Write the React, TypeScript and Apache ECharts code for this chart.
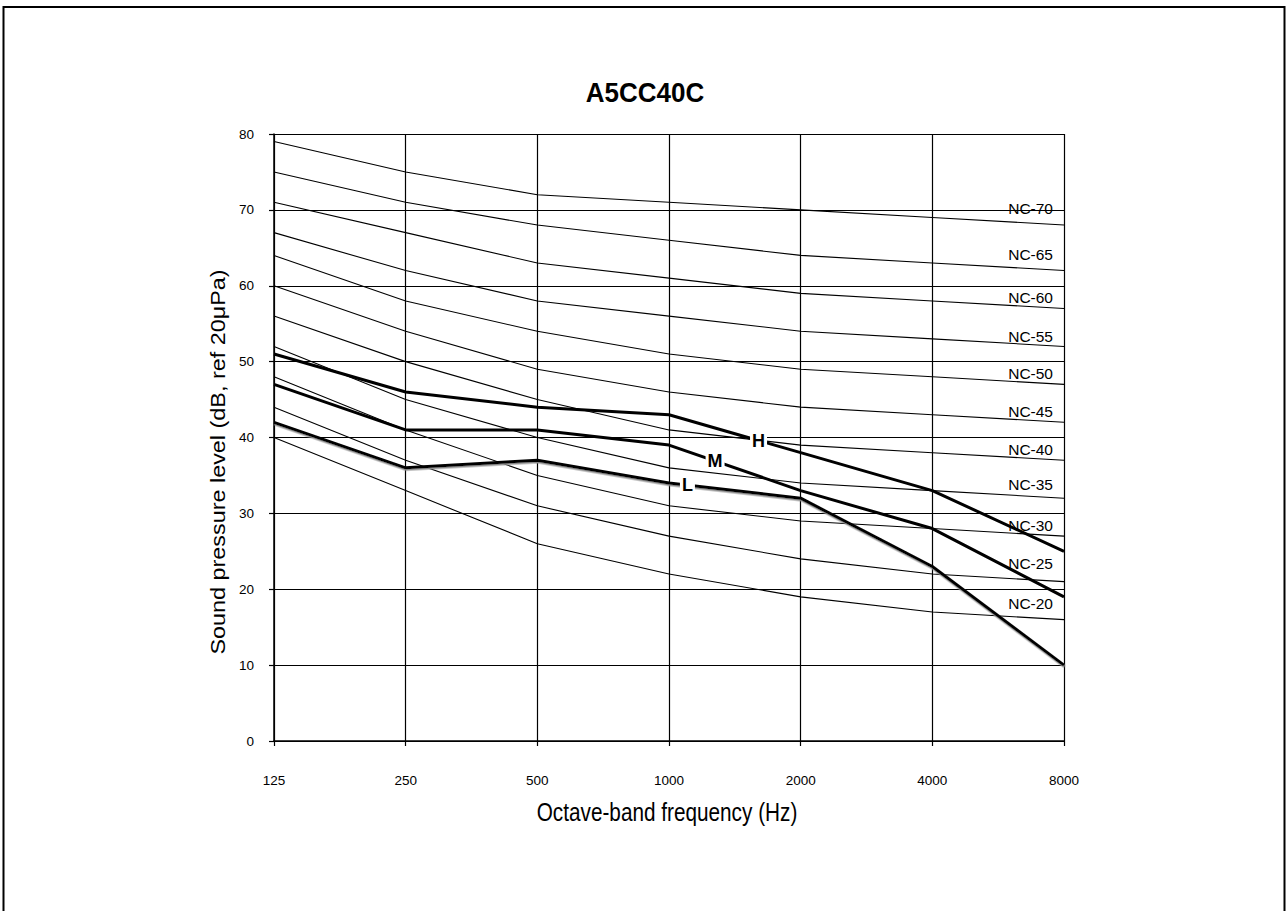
import React, { useEffect, useRef } from "react";
import * as echarts from "echarts";

// ---- data ----
const freqLabels = ["125", "250", "500", "1000", "2000", "4000", "8000"];
const yTickMin = 0;
const yTickMax = 80;
const yTickStep = 10;

const ncNames = ["NC-70", "NC-65", "NC-60", "NC-55", "NC-50", "NC-45", "NC-40", "NC-35", "NC-30", "NC-25", "NC-20"];
const nc70 = [79, 75, 72, 71, 70, 69, 68];
const nc65 = [75, 71, 68, 66, 64, 63, 62];
const nc60 = [71, 67, 63, 61, 59, 58, 57];
const nc55 = [67, 62, 58, 56, 54, 53, 52];
const nc50 = [64, 58, 54, 51, 49, 48, 47];
const nc45 = [60, 54, 49, 46, 44, 43, 42];
const nc40 = [56, 50, 45, 41, 39, 38, 37];
const nc35 = [52, 45, 40, 36, 34, 33, 32];
const nc30 = [48, 41, 35, 31, 29, 28, 27];
const nc25 = [44, 37, 31, 27, 24, 22, 21];
const nc20 = [40, 33, 26, 22, 19, 17, 16];
const ncCurves = [nc70, nc65, nc60, nc55, nc50, nc45, nc40, nc35, nc30, nc25, nc20];

const speedNames = ["H", "M", "L"];
const hValues = [51, 46, 44, 43, 38, 33, 25];
const mValues = [47, 41, 41, 39, 33, 28, 19];
const lValues = [42, 36, 37, 34, 32, 23, 10];
const speedCurves = [hValues, mValues, lValues];

// ---- layout / style config ----
const speedLabelAt = [3.68, 3.35, 3.14]; // position along the x index where each curve label sits
const ncLabelDy = [-17, -16, -11, -10, -11, -11, -11, -14, -11, -18, -16];
const SANS = "'Liberation Sans', Arial, sans-serif";

const toPairs = (vals: number[]) => vals.map((v, i) => [i, v]);
const interp = (vals: number[], x: number) => {
  const i = Math.min(Math.floor(x), vals.length - 2);
  const t = x - i;
  return vals[i] + (vals[i + 1] - vals[i]) * t;
};

export default function App() {
  const ref = useRef<HTMLDivElement>(null);
  useEffect(() => {
    if (!ref.current) return;
    const chart = echarts.init(ref.current, undefined, { renderer: "svg" });

    const ncSeries = ncCurves.map((vals, k) => ({
      name: ncNames[k],
      type: "line",
      data: toPairs(vals),
      symbol: "none",
      silent: true,
      z: 2,
      lineStyle: { color: "#000", width: 1.1 },
      markPoint: {
        symbol: "circle",
        symbolSize: 0,
        silent: true,
        label: {
          show: true,
          position: "left",
          distance: 0,
          offset: [-11, ncLabelDy[k]],
          formatter: ncNames[k],
          color: "#000",
          fontSize: 15.5,
          fontFamily: SANS,
        },
        data: [{ coord: [vals.length - 1, vals[vals.length - 1]] }],
      },
    }));

    const speedSeries = speedCurves.map((vals, k) => ({
      name: speedNames[k],
      type: "line",
      data: toPairs(vals),
      symbol: "none",
      silent: true,
      z: 5,
      lineStyle:
        speedNames[k] === "L"
          ? { color: "#000", width: 3, shadowColor: "#8a8a8a", shadowBlur: 0, shadowOffsetX: 0.5, shadowOffsetY: 1.5 }
          : { color: "#000", width: 3 },
      markPoint: {
        symbol: "rect",
        symbolSize: 0,
        silent: true,
        z: 10,
        label: {
          show: true,
          position: "inside",
          formatter: speedNames[k],
          color: "#000",
          fontSize: 18,
          fontWeight: "bold",
          fontFamily: SANS,
          backgroundColor: "#fff",
          padding: [0, 2, 0, 2],
          lineHeight: 19,
        },
        data: [{ coord: [speedLabelAt[k], interp(vals, speedLabelAt[k])] }],
      },
    }));

    chart.setOption({
      animation: false,
      backgroundColor: "#fff",
      grid: { left: 274, right: 222, top: 134, bottom: 170 },
      xAxis: {
        type: "value",
        min: 0,
        max: freqLabels.length - 1,
        interval: 1,
        axisLine: { show: true, onZero: false, lineStyle: { color: "#000", width: 1.5 } },
        axisTick: { show: true, length: 5, lineStyle: { color: "#000", width: 1.2 } },
        axisLabel: {
          formatter: (v: number) => freqLabels[Math.round(v)] ?? "",
          color: "#000",
          fontSize: 13.5,
          fontFamily: SANS,
          margin: 32,
        },
        splitLine: { show: true, lineStyle: { color: "#000", width: 1.2 } },
      },
      yAxis: {
        type: "value",
        min: yTickMin,
        max: yTickMax,
        interval: yTickStep,
        axisLine: { show: true, lineStyle: { color: "#000", width: 1.5 } },
        axisTick: { show: true, length: 5, lineStyle: { color: "#000", width: 1.2 } },
        axisLabel: { color: "#000", fontSize: 13.5, fontFamily: SANS, margin: 20 },
        splitLine: { show: true, lineStyle: { color: "#000", width: 1.2 } },
      },
      graphic: [
        {
          type: "rect",
          shape: { x: 3.5, y: 7, width: 1281, height: 940 },
          style: { fill: "none", stroke: "#000", lineWidth: 2 },
          silent: true,
        },
        {
          type: "text",
          x: 645,
          y: 93,
          scaleY: 1.08,
          style: {
            text: "A5CC40C",
            fill: "#000",
            font: `bold 26px ${SANS}`,
            align: "center",
            verticalAlign: "middle",
          },
        },
        {
          type: "text",
          x: 218,
          y: 462,
          rotation: Math.PI / 2,
          scaleX: 1.17,
          style: {
            text: "Sound pressure level (dB, ref 20μPa)",
            fill: "#000",
            font: `20px ${SANS}`,
            align: "center",
            verticalAlign: "middle",
          },
        },
        {
          type: "text",
          x: 667,
          y: 812,
          scaleX: 0.83,
          style: {
            text: "Octave-band frequency (Hz)",
            fill: "#000",
            font: `25px ${SANS}`,
            align: "center",
            verticalAlign: "middle",
          },
        },
      ],
      series: [...ncSeries, ...speedSeries],
    });
    return () => chart.dispose();
  }, []);
  return (
    <div
      ref={ref}
      style={{ position: "fixed", left: 0, top: 0, width: 1286, height: 911, background: "#fff" }}
    />
  );
}
